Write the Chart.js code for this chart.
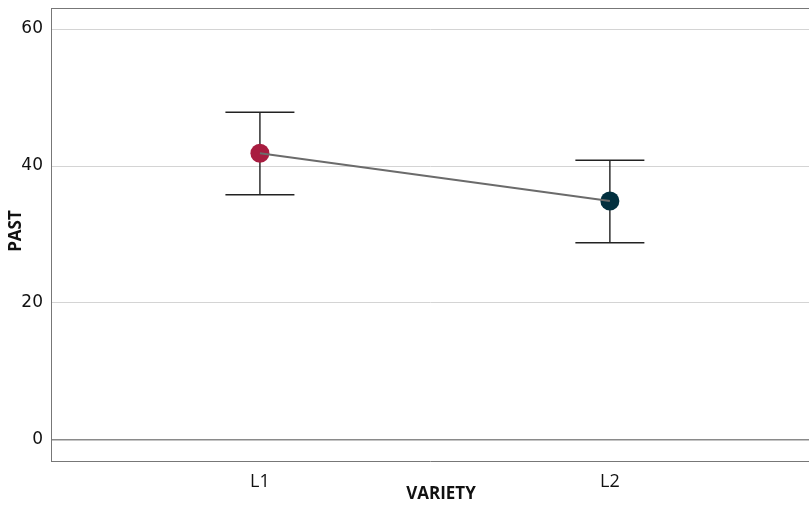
<!DOCTYPE html>
<html>
<head>
<meta charset="utf-8">
<script src="https://cdn.jsdelivr.net/npm/chart.js@4.4.0/dist/chart.umd.min.js"></script>
<style>
  html, body { margin: 0; padding: 0; background: #fff; }
  #wrap { width: 809px; height: 505px; }
</style>
</head>
<body>
<div id="wrap"><canvas id="chart"></canvas></div>
<script>
// data
const categories = ['L1', 'L2'];
const categoryPos = [1, 2];
const means = [41.85, 34.9];
const upper = [47.85, 40.85];
const lower = [35.8, 28.8];
const pointColors = ['#a81c40', '#02303f'];
const yTicks = [0, 20, 40, 60];

const errorBars = {
    id: 'errorBars',
    beforeDatasetsDraw(chart) {
        const ctx = chart.ctx;
        const xs = chart.scales.x, ys = chart.scales.y;
        ctx.save();
        ctx.strokeStyle = '#222';
        ctx.lineWidth = 1.4;
        categoryPos.forEach((c, i) => {
            const x = xs.getPixelForValue(c);
            const top = ys.getPixelForValue(upper[i]);
            const bot = ys.getPixelForValue(lower[i]);
            ctx.beginPath();
            ctx.moveTo(x, top); ctx.lineTo(x, bot);
            ctx.moveTo(x - 34.5, top); ctx.lineTo(x + 34.5, top);
            ctx.moveTo(x - 34.5, bot); ctx.lineTo(x + 34.5, bot);
            ctx.stroke();
        });
        ctx.restore();
    },
    afterDraw(chart) {
        const ctx = chart.ctx;
        const a = chart.chartArea;
        ctx.save();
        // frame on top
        ctx.strokeStyle = '#777';
        ctx.lineWidth = 1;
        ctx.beginPath();
        ctx.moveTo(a.left, a.top + 0.5); ctx.lineTo(a.right, a.top + 0.5);
        ctx.stroke();
        // axis titles
        ctx.fillStyle = '#111';
        ctx.font = 'bold 17px "Open Sans"';
        ctx.textAlign = 'center';
        ctx.textBaseline = 'middle';
        ctx.fillText('VARIETY', 441, 494);
        ctx.translate(16, 231);
        ctx.rotate(-Math.PI / 2);
        ctx.fillText('PAST', 0, 0);
        ctx.restore();
    }
};

new Chart(document.getElementById('chart'), {
    type: 'scatter',
    data: {
        datasets: [{
            type: 'line',
            data: categoryPos.map((c, i) => ({ x: c, y: means[i] })),
            borderColor: '#6b6b6b',
            borderWidth: 2,
            pointRadius: 0,
            order: 0
        }, {
            data: categoryPos.map((c, i) => ({ x: c, y: means[i] })),
            pointRadius: 9.5,
            pointHoverRadius: 9.5,
            pointBackgroundColor: pointColors,
            pointBorderWidth: 0,
            order: 1
        }]
    },
    options: {
        responsive: true,
        maintainAspectRatio: false,
        animation: false,
        layout: { autoPadding: false, padding: { top: 8, right: 0, left: 0, bottom: 0 } },
        plugins: { legend: { display: false }, tooltip: { enabled: false } },
        scales: {
            x: {
                type: 'linear',
                min: 0.403,
                max: 2.569,
                afterBuildTicks: axis => { axis.ticks = categoryPos.map(v => ({ value: v })); },
                afterFit: axis => {
                    axis.height = 44;
                    axis.paddingLeft = 0; axis.paddingRight = 0;
                },
                ticks: {
                    callback: (v) => categories[categoryPos.indexOf(v)],
                    color: '#111',
                    font: { family: 'Open Sans', size: 18 },
                    padding: 10,
                    maxRotation: 0
                },
                grid: { display: false, drawTicks: false },
                border: { display: true, color: '#777', width: 1 }
            },
            y: {
                min: -3.07,
                max: 63.07,
                afterBuildTicks: axis => { axis.ticks = yTicks.map(v => ({ value: v })); },
                afterFit: axis => {
                    axis.width = 51;
                    axis.paddingTop = 0; axis.paddingBottom = 0;
                },
                ticks: {
                    color: '#111',
                    font: { family: 'DejaVu Sans', size: 17 },
                    padding: 8
                },
                grid: {
                    drawTicks: false,
                    color: ctx => ctx.tick && ctx.tick.value === 0 ? '#8a8a8a' : '#d4d4d4',
                    lineWidth: ctx => ctx.tick && ctx.tick.value === 0 ? 1.5 : 1
                },
                border: { display: true, color: '#777', width: 1 }
            }
        }
    },
    plugins: [errorBars]
});
</script>
</body>
</html>
